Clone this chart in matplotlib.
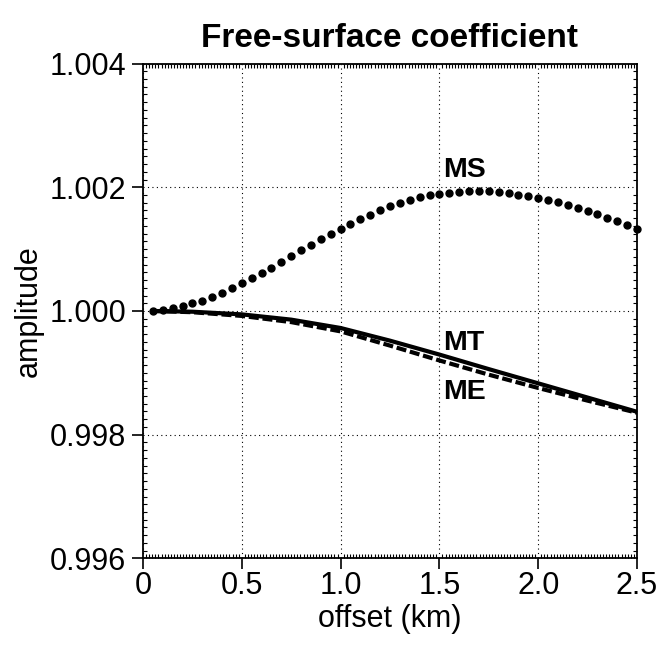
"""
Free-surface coefficient vs offset (MS / MT / ME)
"""

import numpy as np
import matplotlib
matplotlib.use("Agg")
import matplotlib.pyplot as plt
from matplotlib.ticker import MultipleLocator

plt.rcParams["font.family"] = ["Liberation Sans", "DejaVu Sans"]

# ── data (amplitude - 1, in units of 1e-3) ───────────────────────────────
offset_ms = np.round(np.arange(1, 51) * 0.05, 2)
ms_dev = [0.000, 0.020, 0.045, 0.080, 0.122, 0.167, 0.225, 0.290, 0.367, 0.450,
          0.527, 0.610, 0.700, 0.792, 0.887, 0.980, 1.072, 1.162, 1.250, 1.331,
          1.410, 1.485, 1.555, 1.625, 1.690, 1.743, 1.792, 1.835, 1.868, 1.890,
          1.910, 1.926, 1.938, 1.940, 1.935, 1.924, 1.905, 1.882, 1.855, 1.822,
          1.790, 1.755, 1.714, 1.667, 1.617, 1.563, 1.509, 1.453, 1.394, 1.331]

offset_mt = [0.05, 0.25, 0.50, 0.75, 1.00, 1.25, 1.50, 1.75, 2.00, 2.25, 2.50]
mt_dev = [0.000, -0.012, -0.055, -0.140, -0.275, -0.480, -0.705, -0.940, -1.170, -1.400, -1.630]
me_dev = [0.000, -0.020, -0.080, -0.180, -0.330, -0.560, -0.800, -1.030, -1.245, -1.450, -1.645]

labels = ["MS", "MT", "ME"]
label_x = [1.52, 1.52, 1.52]
label_y = [1.002285, 0.99949, 0.998682]


def to_amp(dev):
    return 1.0 + np.asarray(dev) * 1e-3


fig = plt.figure(figsize=(6.58, 6.52), dpi=100)
ax = fig.add_axes([0.2173, 0.1436, 0.7508, 0.7589])

ax.plot(offset_ms, to_amp(ms_dev), linestyle="none", marker="o",
        markersize=5.0, color="black", clip_on=False, zorder=3)
ax.plot(offset_mt, to_amp(me_dev), color="black", linewidth=3.0,
        linestyle=(0, (2.4, 0.9)), zorder=3)
ax.plot(offset_mt, to_amp(mt_dev), color="black", linewidth=3.0, zorder=3)

for txt, x, y in zip(labels, label_x, label_y):
    ax.text(x, y, txt, ha="left", va="center", fontsize=20.5, fontweight="bold")

ax.set_xlim(0, 2.5)
ax.set_ylim(0.996, 1.004)
ax.set_xticks([0, 0.5, 1.0, 1.5, 2.0, 2.5])
ax.set_xticklabels(["0", "0.5", "1.0", "1.5", "2.0", "2.5"])
ax.set_yticks([0.996, 0.998, 1.000, 1.002, 1.004])
ax.set_yticklabels(["0.996", "0.998", "1.000", "1.002", "1.004"])
ax.xaxis.set_minor_locator(MultipleLocator(0.5 / 32))
ax.yaxis.set_minor_locator(MultipleLocator(0.002 / 16))

ax.tick_params(which="major", direction="out", length=8, width=1.2,
               labelsize=22, pad=4)
ax.tick_params(axis="x", which="major", pad=1)
ax.tick_params(which="minor", direction="in", length=3, width=0.8,
               top=True, right=True)
for s in ax.spines.values():
    s.set_linewidth(1.3)

ax.grid(True, which="major", color="black", linestyle=(0, (1, 3)), linewidth=0.8)

ax.set_title("Free-surface coefficient", fontsize=24, fontweight="bold", pad=12)
ax.set_xlabel("offset (km)", fontsize=22, labelpad=2)
ax.set_ylabel("amplitude", fontsize=22, labelpad=4)

fig.savefig("out.png", dpi=100)
